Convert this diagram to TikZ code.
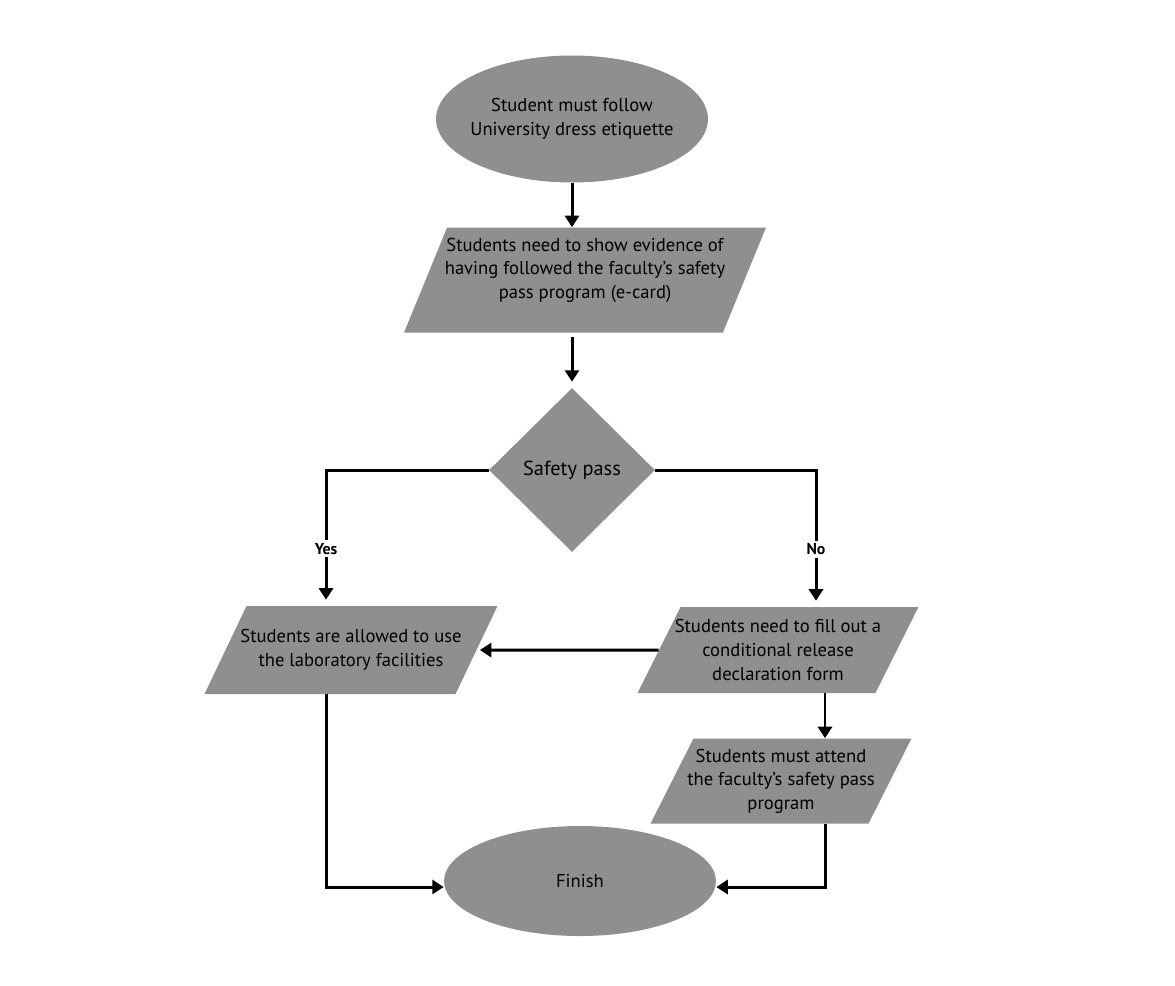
\documentclass[tikz,border=0pt]{standalone}
\usepackage{fontspec}
\setmainfont{PT Sans}
\usetikzlibrary{shapes.geometric,arrows.meta}
\definecolor{boxgray}{HTML}{8F8F8F}
% text block of fixed height, zero width (the shape takes its width from minimum width)
\newcommand{\parabox}[2]{\makebox[0pt]{\parbox[c][#1][c]{8cm}{\centering #2}}}

\begin{document}
\begin{tikzpicture}[x=0.02cm,y=-0.02cm,
    every node/.style={font=\fontsize{10.6}{13.4}\selectfont},
    oval/.style={ellipse,fill=boxgray,inner sep=0pt,align=center},
    para/.style={trapezium,trapezium left angle=64.5,trapezium right angle=115.5,
        trapezium stretches body,fill=boxgray,inner sep=0pt},
    flow/.style={line width=1.7pt,-{Triangle[width=8pt,length=6.5pt]}},
    answer/.style={fill=white,inner sep=1.5pt,font=\fontsize{9}{10}\selectfont\bfseries}]

    \useasboundingbox [fill=white] (0,0) rectangle (1175,985);

    \node [oval, minimum width=5.44cm, minimum height=2.54cm] (start) at (572,119)
        {\parabox{1cm}{Student must follow\\University dress etiquette}};
    \node [para, trapezium left angle=67.7, trapezium right angle=112.3,
        minimum width=7.24cm] (evidence) at (585,280)
        {\parabox{2.1cm}{Students need to show evidence of\\having followed the faculty's safety\\pass program (e-card)\\[0.4cm]}};
    \node [diamond, fill=boxgray, inner sep=0pt, minimum width=3.32cm, minimum height=3.28cm,
        font=\fontsize{11.6}{13}\selectfont] (pass) at (572,470) {Safety pass};

    \node [para, minimum width=5.86cm] (allowed) at (351,650)
        {\parabox{1.76cm}{Students are allowed to use\\the laboratory facilities}};
    \node [para, trapezium left angle=63.4, trapezium right angle=116.6,
        minimum width=5.62cm] (release) at (778,650)
        {\parabox{1.72cm}{Students need to fill out a\\conditional release\\declaration form}};
    \node [para, trapezium left angle=63.2, trapezium right angle=116.8,
        minimum width=5.22cm] (attend) at (781,781)
        {\parabox{1.7cm}{Students must attend\\the faculty's safety pass\\program}};

    \node [oval, minimum width=5.44cm, minimum height=2.2cm] (finish) at (580,881) {Finish};

    % main line
    \draw [flow] (start.south) -- (start.south |- evidence.north);
    \draw [flow, shorten <=0.08cm, shorten >=0.12cm] (pass.north |- evidence.south) -- (pass.north);

    % decision
    \draw [flow, shorten >=0.12cm] (pass.west) -| ([xshift=-0.5cm]allowed.north)
        node [answer, pos=0.79] {Yes};
    \draw [flow, shorten >=0.12cm] (pass.east) -| ([xshift=0.76cm]release.north)
        node [answer, pos=0.79] {No};

    \draw [flow, shorten >=0.06cm] (release.west) -- (allowed.east);
    \draw [flow] ([xshift=0.94cm]release.south) -- ([xshift=0.94cm]release.south |- attend.north);

    % to finish
    \draw [flow] ([xshift=-0.5cm]allowed.south) |- ([yshift=-0.12cm]finish.west);
    \draw [flow] ([xshift=0.88cm]attend.south) |- ([yshift=-0.12cm]finish.east);

\end{tikzpicture}
\end{document}
